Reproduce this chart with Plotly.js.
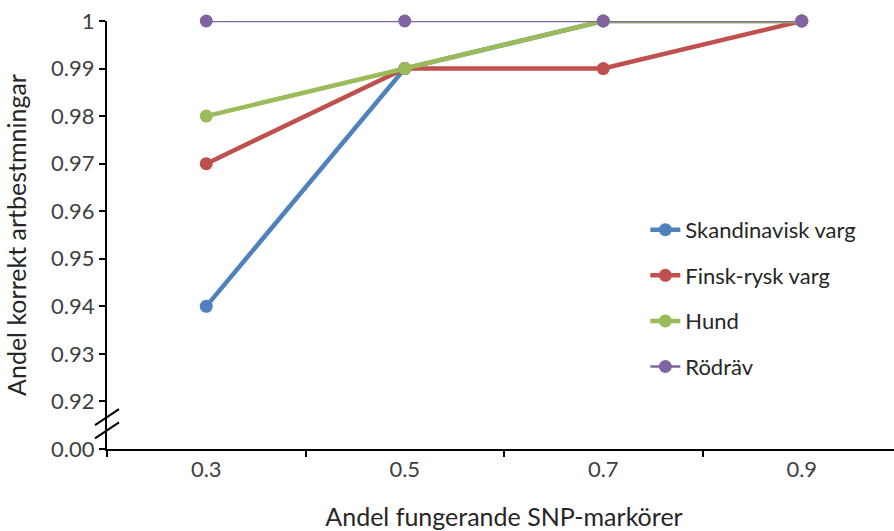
<!DOCTYPE html>
<html>
<head>
<meta charset="utf-8">
<script src="https://cdn.plot.ly/plotly-3.0.1.min.js"></script>
<style>
  html, body { margin: 0; padding: 0; background: #fff; overflow: hidden; }
  #chart { width: 910px; height: 531px; }
</style>
</head>
<body>
<div id="chart"></div>
<script>
// Andel fungerande SNP-markörer (kategorier på x-axeln)
const categories = ["0.3", "0.5", "0.7", "0.9"];

// Andel korrekta artbestämningar per grupp
const skandinaviskVarg = [0.94, 0.99, 1.00, 1.00];
const finskRyskVarg    = [0.97, 0.99, 0.99, 1.00];
const hund             = [0.98, 0.99, 1.00, 1.00];
const rodrav           = [1.00, 1.00, 1.00, 1.00];

const seriesNames = ["Skandinavisk varg", "Finsk-rysk varg", "Hund", "Rödräv"];

// y-axeln är bruten: "0.00" ritas ett steg under 0.92
const yTickLabels = ["0.00", "0.92", "0.93", "0.94", "0.95", "0.96", "0.97", "0.98", "0.99", "1"];
const yBreakValue = 0.91;
const yTickVals = yTickLabels.map((t, i) => i === 0 ? yBreakValue : Number(t));

const colors = ["#4F81BD", "#C0504D", "#9BBB59", "#8064A2"];
const widths = [4.5, 4.5, 4.5, 2.5];
const seriesValues = [skandinaviskVarg, finskRyskVarg, hund, rodrav];

const FONT = "Lato, 'Open Sans', sans-serif";

const traces = seriesValues.map((vals, i) => ({
  type: "scatter",
  mode: "lines+markers",
  name: seriesNames[i],
  legendgroup: "g" + i,
  x: categories,
  y: vals,
  cliponaxis: false,
  line: { color: colors[i], width: widths[i] },
  marker: { color: colors[i], size: 13 }
}));

// Markeringar för axelbrottet
const breakMark = (yc) => ({
  type: "line",
  xref: "paper", xsizemode: "pixel", xanchor: 0,
  x0: -12, x1: 12,
  yref: "y", ysizemode: "pixel", yanchor: yc,
  y0: -8, y1: 8,
  line: { color: "#000", width: 2 }
});

const layout = {
  width: 910,
  height: 531,
  margin: { l: 107, r: 9, t: 21, b: 82 },
  paper_bgcolor: "#fff",
  plot_bgcolor: "#fff",
  font: { family: FONT, color: "#404040", size: 22 },
  showlegend: true,
  legend: {
    x: 0.678, y: 0.561, xanchor: "left", yanchor: "top",
    traceorder: "grouped",
    tracegroupgap: 14,
    font: { family: FONT, size: 22, color: "#262626" },
    bgcolor: "rgba(0,0,0,0)"
  },
  xaxis: {
    type: "category",
    categoryorder: "array",
    categoryarray: categories,
    range: [-0.5, 3.5],
    tickson: "boundaries",
    ticks: "outside",
    ticklen: 6,
    tickwidth: 2,
    tickcolor: "#000",
    showline: true,
    linecolor: "#000",
    linewidth: 2,
    showgrid: false,
    zeroline: false,
    tickfont: { family: FONT, size: 22, color: "#404040" },
    title: { text: "Andel fungerande SNP-markörer", standoff: 32,
             font: { family: FONT, size: 25, color: "#262626" } }
  },
  yaxis: {
    range: [yBreakValue, 1],
    tickmode: "array",
    tickvals: yTickVals,
    ticktext: yTickLabels,
    ticks: "outside",
    ticklen: 6,
    tickwidth: 2,
    tickcolor: "#000",
    showline: true,
    linecolor: "#000",
    linewidth: 2,
    showgrid: false,
    zeroline: false,
    tickfont: { family: FONT, size: 22, color: "#404040" },
    title: { text: "Andel korrekt artbestmningar", standoff: 17,
             font: { family: FONT, size: 25, color: "#262626" } }
  },
  shapes: [breakMark(0.9167), breakMark(0.9139)]
};

Plotly.newPlot("chart", traces, layout, { staticPlot: true, displayModeBar: false });
</script>
</body>
</html>
